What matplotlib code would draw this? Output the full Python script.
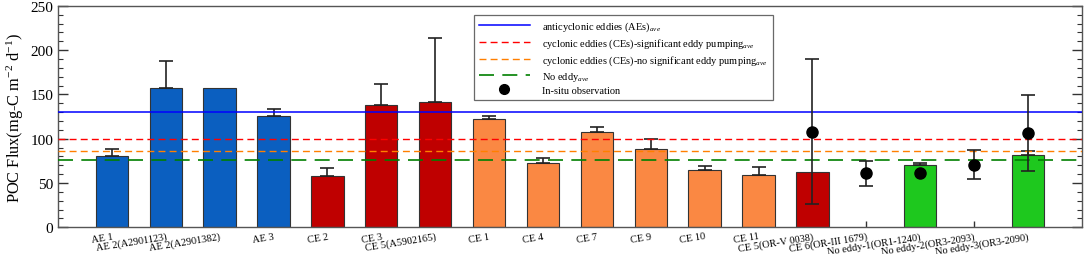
import matplotlib
matplotlib.use("Agg")
import matplotlib.pyplot as plt
from matplotlib.lines import Line2D
from matplotlib.ticker import MultipleLocator
import numpy as np

plt.rcParams['font.family'] = ['Liberation Serif', 'DejaVu Serif']
plt.rcParams['mathtext.fontset'] = 'custom'
plt.rcParams['mathtext.rm'] = 'Liberation Serif'
plt.rcParams['mathtext.it'] = 'Liberation Serif:italic'

categories = ["AE 1", "AE 2(A2901123)", "AE 2(A2901382)", "AE 3", "CE 2", "CE 3",
              "CE 5(A5902165)", "CE 1", "CE 4", "CE 7", "CE 9", "CE 10", "CE 11",
              "CE 5(OR-V 0038)", "CE 6(OR-III 1679)", "No eddy-1(OR1-1240)",
              "No eddy-2(OR3-2093)", "No eddy-3(OR3-2090)"]
groups = ["AE", "AE", "AE", "AE", "CEs", "CEs", "CEs", "CEn", "CEn", "CEn", "CEn",
          "CEn", "CEn", "CEs", "none", "NE", "none", "NE"]
bar_values = [80.8, 157.5, 156.8, 125.2, 58.2, 138.3, 141.7, 122.1, 72.2, 107.1,
              88.7, 65.0, 59.0, 62.0, np.nan, 70.7, np.nan, 81.5]
bar_err = [7.5, 30.5, 0.0, 8.8, 8.7, 23.0, 71.8, 3.8, 6.0, 6.4, 11.3, 3.8, 8.7,
           0.0, np.nan, 2.2, np.nan, 4.9]
obs_values = [np.nan] * 13 + [108.0, 61.0, 61.0, 70.5, 106.0]
obs_err = [np.nan] * 13 + [82.0, 14.0, 0.0, 16.5, 43.0]

ave_AE = 130
ave_CE_sig = 100
ave_CE_nosig = 86
ave_noeddy = 76

colors = {"AE": "#0b5fc0", "CEs": "#bf0000", "CEn": "#fa8843", "NE": "#1ec81e", "none": "none"}

fig = plt.figure(figsize=(10.84, 2.55), dpi=100)
ax = fig.add_axes([0.0535, 0.105, 0.9445, 0.868])

x = np.arange(len(categories))
for xi, v, e, g in zip(x, bar_values, bar_err, groups):
    if np.isnan(v):
        continue
    ax.bar(xi, v, width=0.6, color=colors[g], edgecolor="#333333", linewidth=0.8, zorder=2)
    if e > 0:
        ax.errorbar(xi, v, yerr=[[0], [e]], fmt='none', ecolor='#222222', elinewidth=1.2,
                    capsize=5, capthick=1.2, zorder=3)

ax.axhline(ave_AE, color='#0000ff', lw=1.1, zorder=4)
ax.axhline(ave_CE_sig, color='#ff0000', lw=1.0, ls=(0, (5, 3)), zorder=4)
ax.axhline(ave_CE_nosig, color='#ff7f00', lw=1.0, ls=(0, (5, 3)), zorder=4)
ax.axhline(ave_noeddy, color='#007f00', lw=1.2, ls=(0, (9, 5)), zorder=4)

for xi, v, e in zip(x, obs_values, obs_err):
    if np.isnan(v):
        continue
    if e > 0:
        ax.errorbar(xi, v, yerr=e, fmt='none', ecolor='#222222', elinewidth=1.2,
                    capsize=5, capthick=1.2, zorder=5)
    ax.plot(xi, v, 'o', color='black', ms=8, zorder=6)

ax.set_xlim(-1, len(categories))
ax.set_ylim(0, 250)
ax.yaxis.set_major_locator(MultipleLocator(50))
ax.yaxis.set_minor_locator(MultipleLocator(10))
ax.set_xticks(x)
ax.set_xticklabels(categories, rotation=9, ha='right', va='top',
                   rotation_mode='anchor', fontsize=7.5)
ax.tick_params(axis='y', which='major', direction='in', length=7, width=1,
               labelsize=11, right=True, color='#333333')
ax.tick_params(axis='y', which='minor', direction='in', length=3.5, width=0.8,
               right=True, color='#333333')
ax.tick_params(axis='x', direction='in', length=4, width=1, pad=3, color='#333333')
for s in ax.spines.values():
    s.set_color('#555555')
    s.set_linewidth(1.0)

ax.set_ylabel(r"POC Flux(mg-C m$^{-2}$ d$^{-1}$)", fontsize=11.8, labelpad=3)

handles = [
    Line2D([], [], color='#0000ff', lw=1.1),
    Line2D([], [], color='#ff0000', lw=1.0, ls=(0, (5, 3))),
    Line2D([], [], color='#ff7f00', lw=1.0, ls=(0, (5, 3))),
    Line2D([], [], color='#007f00', lw=1.2, ls=(0, (9, 5))),
    Line2D([], [], color='black', marker='o', ms=7, ls='none'),
]
labels = [r"anticyclonic eddies (AEs)$_{ave}$",
          r"cyclonic eddies (CEs)-significant eddy pumping$_{ave}$",
          r"cyclonic eddies (CEs)-no significant eddy pumping$_{ave}$",
          r"No eddy$_{ave}$",
          "In-situ observation"]
leg = ax.legend(handles, labels, loc='upper left', bbox_to_anchor=(0.403, 0.975),
                fontsize=7.5, frameon=True, fancybox=False, edgecolor='#444444',
                handlelength=4.9, labelspacing=0.3, borderpad=0.5, handletextpad=1.2,
                borderaxespad=0.3)
leg.get_frame().set_linewidth(0.9)

fig.savefig("out.png", dpi=100)
